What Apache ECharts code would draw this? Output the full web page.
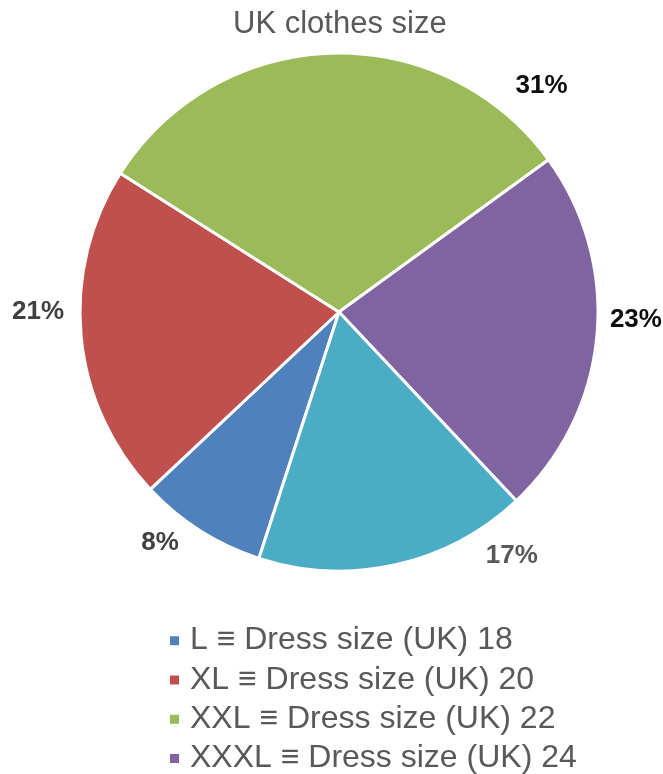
<!DOCTYPE html>
<html>
<head>
<meta charset="utf-8">
<script src="https://cdn.jsdelivr.net/npm/echarts@6/dist/echarts.min.js"></script>
<style>
  html, body { margin: 0; padding: 0; background: #ffffff; }
  #chart { width: 663px; height: 774px; }
</style>
</head>
<body>
<div id="chart"></div>
<script>
// Size categories and their share of respondents (%)
const sizeNames = [
  'L ≡ Dress size (UK) 18',
  'XL ≡ Dress size (UK) 20',
  'XXL ≡ Dress size (UK) 22',
  'XXXL ≡ Dress size (UK) 24',
  'XXXXL ≡ Dress size (UK) 26'
];
const sizeShares = [8, 21, 31, 23, 17];
const sliceColors = ['#4F81BD', '#C0504D', '#9BBB59', '#8064A2', '#4BACC6'];
const labelColors = ['#404040', '#404040', '#0d0d0d', '#0d0d0d', '#595959'];

// Label placement around the pie (angle clockwise from 12 o'clock, distance from centre)
const labelAngles = [217.8, 270, 41.8, 91.5, 144.7];
const labelDistances = [292, 301, 304, 297, 299];

const CX = 339, CY = 312, R = 259;

const chart = echarts.init(document.getElementById('chart'), null, { renderer: 'canvas' });

const pieData = sizeNames.map((name, i) => ({
  name: name,
  value: sizeShares[i],
  itemStyle: { color: sliceColors[i] },
  label: { color: labelColors[i] }
}));

chart.setOption({
  backgroundColor: '#ffffff',
  animation: false,
  title: {
    text: 'UK clothes size',
    left: 233,
    top: 9,
    padding: 0,
    textStyle: {
      fontFamily: 'Liberation Sans, Arial, sans-serif',
      fontSize: 31,
      fontWeight: 'normal',
      color: '#595959'
    }
  },
  legend: {
    data: sizeNames.slice(0, 4),
    orient: 'vertical',
    left: 168,
    top: 621,
    height: 400,
    padding: 0,
    icon: 'rect',
    itemWidth: 11,
    itemHeight: 11,
    itemGap: 0,
    selectedMode: false,
    textStyle: {
      fontFamily: 'Liberation Sans, Arial, sans-serif',
      fontSize: 32,
      color: '#595959',
      lineHeight: 39.3,
      padding: [0, 0, 0, 5]
    }
  },
  series: [{
    type: 'pie',
    center: [CX, CY],
    radius: [0, R],
    startAngle: 252,
    clockwise: true,
    avoidLabelOverlap: false,
    itemStyle: { borderColor: '#ffffff', borderWidth: 3 },
    label: {
      show: true,
      position: 'outside',
      formatter: '{d}%',
      fontFamily: 'Liberation Sans, Arial, sans-serif',
      fontSize: 26,
      fontWeight: 'bold'
    },
    labelLine: { show: false },
    labelLayout: function (p) {
      const a = labelAngles[p.dataIndex] * Math.PI / 180;
      const d = labelDistances[p.dataIndex];
      return {
        x: CX + d * Math.sin(a),
        y: CY - d * Math.cos(a),
        align: 'center',
        verticalAlign: 'middle'
      };
    },
    emphasis: { disabled: true },
    data: pieData
  }]
});
</script>
</body>
</html>
